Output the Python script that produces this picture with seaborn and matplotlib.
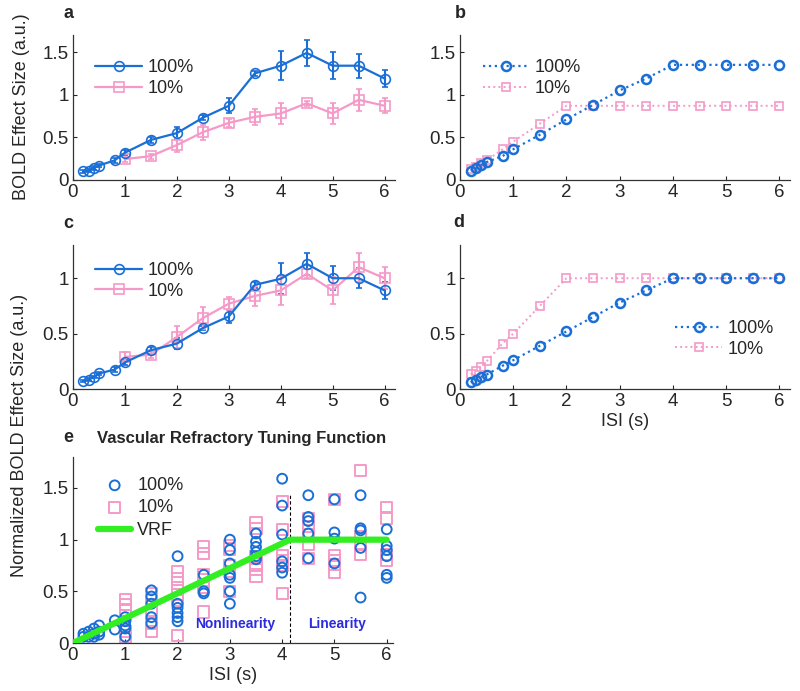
import numpy as np
import pandas as pd
import seaborn as sns
import matplotlib.pyplot as plt

# ISI values
isi_100 = [0.2, 0.3, 0.4, 0.5, 0.8, 1, 1.5, 2, 2.5, 3, 3.5, 4, 4.5, 5, 5.5, 6]
isi_10 = [1, 1.5, 2, 2.5, 3, 3.5, 4, 4.5, 5, 5.5, 6]
isi_fit = [0.2, 0.3, 0.4, 0.5, 0.8, 1, 1.5, 2, 2.5, 3, 3.5, 4, 4.5, 5, 5.5, 6]

# panel a: raw BOLD effect size
a_100 = [0.10, 0.11, 0.14, 0.17, 0.23, 0.32, 0.47, 0.55, 0.73, 0.87, 1.25, 1.34, 1.49, 1.34, 1.34, 1.19]
a_100_err = [0.02, 0.02, 0.02, 0.02, 0.03, 0.03, 0.04, 0.07, 0.03, 0.09, 0.03, 0.17, 0.15, 0.16, 0.14, 0.10]
a_10 = [0.245, 0.28, 0.41, 0.56, 0.67, 0.74, 0.78, 0.90, 0.78, 0.94, 0.87]
a_10_err = [0.03, 0.03, 0.08, 0.09, 0.05, 0.09, 0.12, 0.03, 0.12, 0.13, 0.09]

# panel b: model fit
b_100 = [0.11, 0.14, 0.175, 0.21, 0.28, 0.36, 0.53, 0.71, 0.88, 1.05, 1.19, 1.35, 1.35, 1.35, 1.35, 1.35]
b_10 = [0.125, 0.155, 0.195, 0.23, 0.36, 0.45, 0.66, 0.87, 0.87, 0.87, 0.87, 0.87, 0.87, 0.87, 0.87, 0.87]

# panel c: normalized data
c_100 = [0.07, 0.085, 0.105, 0.14, 0.175, 0.24, 0.35, 0.41, 0.55, 0.655, 0.94, 0.995, 1.13, 1.0, 1.0, 0.89]
c_100_err = [0.01, 0.01, 0.01, 0.01, 0.02, 0.02, 0.03, 0.05, 0.02, 0.06, 0.03, 0.14, 0.10, 0.11, 0.09, 0.08]
c_10 = [0.29, 0.31, 0.47, 0.64, 0.77, 0.84, 0.89, 1.04, 0.89, 1.10, 1.0]
c_10_err = [0.04, 0.03, 0.10, 0.10, 0.06, 0.09, 0.13, 0.04, 0.12, 0.13, 0.10]

# panel d: normalized fit
d_100 = [0.06, 0.085, 0.11, 0.13, 0.21, 0.26, 0.39, 0.52, 0.65, 0.78, 0.89, 1, 1, 1, 1, 1]
d_10 = [0.135, 0.165, 0.20, 0.25, 0.41, 0.50, 0.75, 1, 1, 1, 1, 1, 1, 1, 1, 1]

# panel e: individual normalized values
e_100_x = [0.2, 0.2, 0.3, 0.3, 0.4, 0.4, 0.4, 0.5, 0.5, 0.5, 0.8, 0.8,
           1, 1, 1, 1, 1, 1.5, 1.5, 1.5, 1.5, 1.5,
           2, 2, 2, 2, 2, 2, 2.5, 2.5, 2.5,
           3, 3, 3, 3, 3, 3, 3, 3.5, 3.5, 3.5, 3.5, 3.5, 3.5,
           4, 4, 4, 4, 4, 4, 4.5, 4.5, 4.5, 4.5, 4.5,
           5, 5, 5, 5, 5.5, 5.5, 5.5, 5.5, 5.5, 6, 6, 6, 6, 6, 6]
e_100_y = [0.09, 0.06, 0.11, 0.06, 0.14, 0.09, 0.06, 0.17, 0.11, 0.08, 0.22, 0.13,
           0.25, 0.21, 0.17, 0.14, 0.06, 0.51, 0.45, 0.38, 0.25, 0.19,
           0.84, 0.38, 0.34, 0.29, 0.25, 0.21, 0.66, 0.50, 0.48,
           1.0, 0.90, 0.77, 0.66, 0.63, 0.50, 0.38, 1.06, 0.98, 0.93, 0.88, 0.84, 0.81,
           1.59, 1.33, 1.05, 0.79, 0.73, 0.68, 1.43, 1.22, 1.18, 1.06, 0.82,
           1.39, 1.07, 1.01, 0.77, 1.43, 1.11, 1.09, 0.92, 0.44, 1.10, 0.94, 0.90, 0.84, 0.66, 0.63]
e_10_x = [1, 1, 1, 1, 1, 1, 1.5, 1.5, 1.5, 1.5, 1.5,
          2, 2, 2, 2, 2, 2, 2.5, 2.5, 2.5, 2.5, 2.5, 2.5,
          3, 3, 3, 3, 3, 3.5, 3.5, 3.5, 3.5, 3.5, 3.5,
          4, 4, 4, 4, 4, 4, 4.5, 4.5, 4.5, 4.5, 4.5,
          5, 5, 5, 5, 5, 5.5, 5.5, 5.5, 5.5, 6, 6, 6, 6]
e_10_y = [0.42, 0.37, 0.32, 0.27, 0.11, 0.05, 0.48, 0.42, 0.32, 0.19, 0.11,
          0.69, 0.62, 0.54, 0.47, 0.41, 0.07, 0.93, 0.87, 0.66, 0.61, 0.54, 0.30,
          0.94, 0.91, 0.75, 0.69, 0.50, 1.17, 1.11, 0.84, 0.77, 0.71, 0.64,
          1.37, 1.10, 0.85, 0.80, 0.75, 0.48, 1.20, 1.13, 1.05, 0.95, 0.82,
          1.39, 0.85, 0.80, 0.76, 0.68, 1.67, 1.03, 0.95, 0.86, 1.31, 1.21, 0.86, 0.80]
vrf_x = [0, 4.15, 6]
vrf_y = [0, 1, 1]

blue = '#1a6fd6'
pink = '#f59ac8'
green = '#33ee22'

sns.set_style('ticks')
plt.rcParams['font.family'] = ['Liberation Sans', 'DejaVu Sans']
plt.rcParams['font.size'] = 11

fig = plt.figure(figsize=(8, 6.91), dpi=100)
W, H = 800, 691


def make_ax(x0, y0, x1, y1):
    return fig.add_axes([x0 / W, 1 - y1 / H, (x1 - x0) / W, (y1 - y0) / H])


def style(ax, ylim, yticks, ylabels, xlim=(0, 6.2)):
    ax.set_xlim(*xlim)
    ax.set_ylim(*ylim)
    ax.set_xticks(range(7))
    ax.set_yticks(yticks)
    ax.set_yticklabels(ylabels)
    ax.tick_params(direction='in', length=3, labelsize=13.5, width=0.8, pad=3)
    sns.despine(ax=ax)
    for s in ['left', 'bottom']:
        ax.spines[s].set_linewidth(0.9)
        ax.spines[s].set_color('#333333')
    ax.set_xlabel('')
    ax.set_ylabel('')


def data_panel(ax, y100, e100, y10, e10):
    ax.errorbar(isi_100, y100, yerr=e100, fmt='none', ecolor=blue, elinewidth=1.5, capsize=2.5, capthick=1.2, zorder=2)
    ax.errorbar(isi_10, y10, yerr=e10, fmt='none', ecolor=pink, elinewidth=1.5, capsize=2.5, capthick=1.2, zorder=2)
    sns.lineplot(x=isi_100, y=y100, ax=ax, color=blue, marker='o', markersize=7, lw=1.6,
                 markerfacecolor='none', markeredgecolor=blue, markeredgewidth=1.2, label='100%', zorder=4)
    sns.lineplot(x=isi_10, y=y10, ax=ax, color=pink, marker='s', markersize=7, lw=1.6,
                 markerfacecolor='none', markeredgecolor=pink, markeredgewidth=1.2, label='10%', zorder=3)


def fit_panel(ax, y100, y10):
    sns.lineplot(x=isi_fit, y=y100, ax=ax, color=blue, marker='o', markersize=6.5, lw=1.6, ls=':',
                 markerfacecolor='none', markeredgecolor=blue, markeredgewidth=1.8, label='100%', zorder=4)
    sns.lineplot(x=isi_fit, y=y10, ax=ax, color=pink, marker='s', markersize=6, lw=1.4, ls=':',
                 markerfacecolor='none', markeredgecolor=pink, markeredgewidth=1.2, label='10%', zorder=3)


leg_kw = dict(frameon=False, fontsize=13, handlelength=2.6, handletextpad=0.3, labelspacing=0.2, borderpad=0.2)

# a
ax_a = make_ax(73, 35, 395, 180)
data_panel(ax_a, a_100, a_100_err, a_10, a_10_err)
style(ax_a, (0, 1.7), [0, 0.5, 1, 1.5], ['0', '0.5', '1', '1.5'])
ax_a.legend(loc='upper left', bbox_to_anchor=(0.03, 0.92), **leg_kw)
fig.text(22 / W, 1 - 107 / H, 'BOLD Effect Size (a.u.)', fontsize=13, rotation=90, ha='center', va='center')
fig.text(63 / W, 1 - 13 / H, 'a', fontsize=13, fontweight='bold', va='center')

# b
ax_b = make_ax(460, 35, 790, 180)
fit_panel(ax_b, b_100, b_10)
style(ax_b, (0, 1.7), [0, 0.5, 1, 1.5], ['0', '0.5', '1', '1.5'])
ax_b.legend(loc='upper left', bbox_to_anchor=(0.03, 0.92), **leg_kw)
fig.text(455 / W, 1 - 13 / H, 'b', fontsize=13, fontweight='bold', va='center')

# c
ax_c = make_ax(73, 245, 395, 389)
data_panel(ax_c, c_100, c_100_err, c_10, c_10_err)
style(ax_c, (0, 1.3), [0, 0.5, 1], ['0', '0.5', '1'])
ax_c.legend(loc='upper left', bbox_to_anchor=(0.03, 0.97), **leg_kw)
fig.text(63 / W, 1 - 224 / H, 'c', fontsize=13, fontweight='bold', va='center')

# d
ax_d = make_ax(460, 245, 790, 389)
fit_panel(ax_d, d_100, d_10)
style(ax_d, (0, 1.3), [0, 0.5, 1], ['0', '0.5', '1'])
ax_d.legend(loc='lower right', bbox_to_anchor=(0.99, 0.13), **leg_kw)
ax_d.set_xlabel('ISI (s)', fontsize=13, labelpad=2)
fig.text(453 / W, 1 - 222 / H, 'd', fontsize=13, fontweight='bold', va='center')

# e
ax_e = make_ax(73, 457, 393, 643)
ax_e.plot([4.15, 4.15], [0, 1.45], color='black', lw=0.8, ls=(0, (3, 2)), zorder=1)
sns.scatterplot(x=e_100_x, y=e_100_y, ax=ax_e, marker='o', s=50, facecolor='none',
                edgecolor=blue, linewidth=1.4, label='100%', zorder=3)
sns.scatterplot(x=e_10_x, y=e_10_y, ax=ax_e, marker='s', s=65, facecolor='none',
                edgecolor=pink, linewidth=1.4, label='10%', zorder=2)
sns.lineplot(x=vrf_x, y=vrf_y, ax=ax_e, color=green, lw=4.5, label='VRF', zorder=4)
style(ax_e, (0, 1.8), [0, 0.5, 1, 1.5], ['0', '0.5', '1', '1.5'], xlim=(0, 6.12))
ax_e.legend(loc='upper left', bbox_to_anchor=(0.04, 0.96), frameon=False, fontsize=13,
            handlelength=1.8, handletextpad=0.35, labelspacing=0.3, borderpad=0.2)
ax_e.text(3.1, 0.18, 'Nonlinearity', color='#2b2be0', fontsize=10, fontweight='bold', ha='center', va='center')
ax_e.text(5.05, 0.18, 'Linearity', color='#2b2be0', fontsize=10, fontweight='bold', ha='center', va='center')
ax_e.set_xlabel('ISI (s)', fontsize=13, labelpad=2)
fig.text(63 / W, 1 - 438 / H, 'e', fontsize=13, fontweight='bold', va='center')
fig.text(97 / W, 1 - 438 / H, 'Vascular Refractory Tuning Function', fontsize=12, fontweight='bold', va='center')

fig.text(20 / W, 1 - 435 / H, 'Normalized BOLD Effect Size (a.u.)', fontsize=13, rotation=90, ha='center', va='center')

fig.savefig('out.png', dpi=100)
